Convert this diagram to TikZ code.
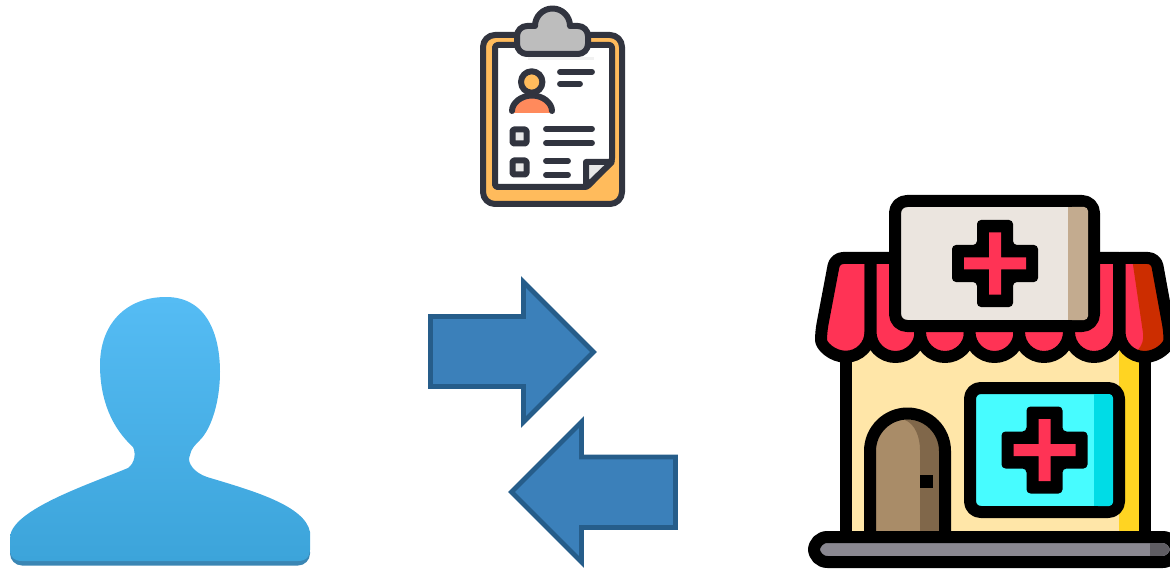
\documentclass[tikz,border=0pt]{standalone}
\usepackage{xcolor}
\usetikzlibrary{calc}

\definecolor{usertop}{HTML}{55BCF4}
\definecolor{userbot}{HTML}{3CA4DA}
\definecolor{useredge}{HTML}{3A86B4}
\definecolor{arrfill}{HTML}{3B80BA}
\definecolor{arredge}{HTML}{265D8A}
\definecolor{ink}{HTML}{31343F}
\definecolor{board}{HTML}{FFBB5C}
\definecolor{clipgray}{HTML}{BDBDBD}
\definecolor{foldgray}{HTML}{E8E8E8}
\definecolor{bodyorange}{HTML}{FF8A5C}
\definecolor{awnred}{HTML}{FF3355}
\definecolor{awndark}{HTML}{CC2D00}
\definecolor{signbg}{HTML}{EBE5DF}
\definecolor{signshade}{HTML}{C3AB8F}
\definecolor{wall}{HTML}{FFE6A8}
\definecolor{wallshade}{HTML}{FFD422}
\definecolor{glass}{HTML}{47FCFF}
\definecolor{glassshade}{HTML}{00DCE6}
\definecolor{doorbg}{HTML}{A98C68}
\definecolor{doorshade}{HTML}{80674A}
\definecolor{basegray}{HTML}{8A8891}
\definecolor{baseshade}{HTML}{5F5D63}

\newcommand{\medcross}[2]{%
  \begin{scope}[shift={(#1,#2)}]
    \fill[black,rounded corners=3pt] (-18,-43.5) -- (18,-43.5) -- (18,-18.5) -- (43,-18.5) -- (43,18.5) -- (18,18.5) -- (18,43.5) -- (-18,43.5) -- (-18,18.5) -- (-43,18.5) -- (-43,-18.5) -- (-18,-18.5) -- cycle;
    \fill[awnred] (-6,-31) -- (6,-31) -- (6,-6) -- (31,-6) -- (31,6) -- (6,6) -- (6,31) -- (-6,31) -- (-6,6) -- (-31,6) -- (-31,-6) -- (-6,-6) -- cycle;
  \end{scope}}

\begin{document}
\begin{tikzpicture}[
  x=0.75pt,y=-0.75pt,
  blk/.style={draw=black,line width=9pt,line join=round},
  arr/.style={draw=arredge,fill=arrfill,line width=3.6pt,miter limit=10},
  clipline/.style={draw=ink,line width=4.5pt,line join=round},
  txtline/.style={draw=ink,line width=4.4pt,line cap=round},
  chk/.style={clipline,fill=foldgray,rounded corners=1pt},
]
\useasboundingbox (0,0) rectangle (1170,570);

% user
\fill[useredge,rounded corners=9pt] (10,540) -- (10,565.5) -- (310,565.5) -- (310,540) -- cycle;
\shade[top color=usertop,bottom color=userbot]
  (166,297) .. controls (125,297) and (100,325) .. (100,365)
  .. controls (100,400) and (112,428) .. (133,447)
  .. controls (136,453) and (135,463) .. (128,468)
  .. controls (90,484) and (10,510) .. (10,538)
  -- (10,550) .. controls (10,557) and (14,561) .. (22,561)
  -- (298,561) .. controls (306,561) and (310,557) .. (310,550)
  -- (310,532)
  .. controls (305,505) and (250,490) .. (207,477)
  .. controls (195,473) and (186,463) .. (190,455)
  .. controls (191,449) and (195,445) .. (200,440)
  .. controls (212,428) and (220,400) .. (220,372)
  .. controls (220,335) and (207,297) .. (166,297) -- cycle;

% arrows
\draw[arr] (430.5,316.5) -- (523.5,316.5) -- (523.5,282) -- (593.5,352) -- (523.5,422) -- (523.5,386.5) -- (430.5,386.5) -- cycle;
\draw[arr] (675.5,457) -- (581.5,457) -- (581.5,422) -- (511.5,492) -- (581.5,562) -- (581.5,527.5) -- (675.5,527.5) -- cycle;

% clipboard
\draw[clipline,fill=board,rounded corners=9pt] (483,35) rectangle (622,204);
\draw[clipline,fill=white,rounded corners=2pt] (495,45) -- (612,45) -- (612,161) -- (587,187) -- (495,187) -- cycle;
\draw[clipline,fill=foldgray] (586,187) -- (586,162) -- (612,162) -- cycle;
\fill[foldgray!60] (528,57) rectangle (594,60);
\draw[clipline,fill=clipgray] (527,26) -- (535,26) arc (180:360:17.5) -- (578,26) arc (-90:0:10) -- (588,44) arc (0:90:10) -- (527,54) arc (90:180:10) -- (517,36) arc (180:270:10) -- cycle;
% patient
\fill[bodyorange] (512,113) .. controls (512,103) and (521,95.5) .. (532,95.5) .. controls (543,95.5) and (552,103) .. (552,113) -- cycle;
\draw[clipline,line cap=round] (512,111) .. controls (512,103) and (521,95.5) .. (532,95.5) .. controls (543,95.5) and (552,103) .. (552,111);
\draw[clipline,fill=board] (531.7,82) circle (10.7);
% text lines
\draw[txtline] (560,72) -- (592,72);
\draw[txtline] (560,84) -- (580,84);
\draw[txtline] (546,129) -- (592,129);
\draw[txtline] (546,143) -- (592,143);
\draw[txtline] (546,161) -- (568,161);
\draw[txtline] (546,175) -- (568,175);
\draw[chk] (512.5,129.5) rectangle (526.5,143.5);
\draw[chk] (512.5,160.5) rectangle (526.5,174.5);

% shop walls
\fill[wall] (845.5,340) rectangle (1144.5,535);
\fill[wallshade] (1119,345) rectangle (1144.5,535);
\draw[blk] (845.5,340) -- (845.5,535);
\draw[blk] (1144.5,340) -- (1144.5,535);

% door
\fill[doorbg] (870,535) -- (870,451) arc (180:360:37.5) -- (945,535) -- cycle;
\fill[doorshade] (905,420) .. controls (915,424) and (920,437) .. (920,450) -- (920,535) -- (940,535) -- (940,450) .. controls (940,432) and (925,418) .. (905,420) -- cycle;
\draw[blk] (870,535) -- (870,451) arc (180:360:37.5) -- (945,535);
\fill[black] (920,475) rectangle (933,488);

% window
\draw[blk,fill=glass,rounded corners=8pt] (970,388) rectangle (1119,512);
\fill[glassshade,rounded corners=3pt] (1094,394) rectangle (1113,506);
\fill[glassshade] (1094,394) rectangle (1105,506);
\medcross{1044.5}{450}

% base
\draw[blk,fill=basegray,rounded corners=10pt] (814,537) rectangle (1176,562);
\begin{scope}
  \clip[rounded corners=6pt] (820,543) rectangle (1169.5,556);
  \fill[baseshade] (1150,543) rectangle (1170,556);
\end{scope}

% awning
\draw[blk,fill=awnred,rounded corners=6pt] (870.5,258) -- (835,258) -- (821,332) [sharp corners] arc (180:0:24.75) -- cycle;
\foreach \lx in {870.5,920,969.5,1019,1069} {
  \draw[blk,fill=awnred] (\lx,258) -- (\lx,332) arc (180:0:25) -- ({\lx+50},258) -- cycle;
}
\fill[awnred,rounded corners=6pt] (1119.5,258) -- (1156,258) -- (1169.5,332) [sharp corners] arc (0:180:25) -- cycle;
\begin{scope}
  \clip[rounded corners=6pt] (1119.5,258) -- (1156,258) -- (1169.5,332) [sharp corners] arc (0:180:25) -- cycle;
  \fill[awndark] (1132,258) -- (1143,333) .. controls (1144,340) and (1142,345) .. (1138,350) -- (1172,365) -- (1172,258) -- cycle;
\end{scope}
\draw[blk,rounded corners=6pt] (1119.5,258) -- (1156,258) -- (1169.5,332) [sharp corners] arc (0:180:25) -- cycle;

% sign
\draw[blk,fill=signbg,rounded corners=9pt] (895,201) rectangle (1094,326);
\fill[signshade,rounded corners=3pt] (1068,207) rectangle (1088,320);
\fill[signshade] (1068,207) rectangle (1078,320);
\medcross{995}{263.5}
\end{tikzpicture}
\end{document}
